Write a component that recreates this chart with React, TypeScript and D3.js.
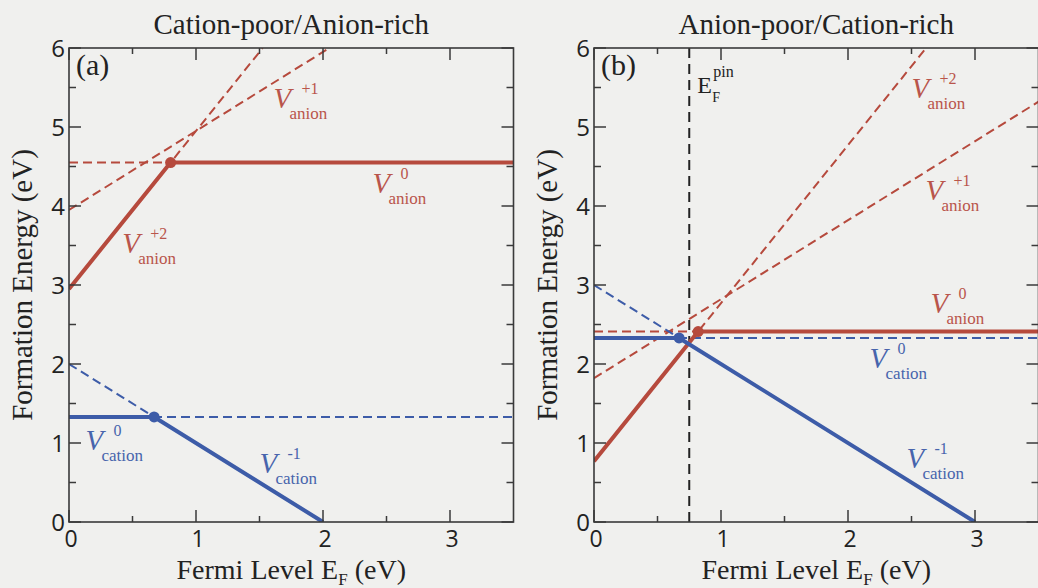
import React from 'react';
import * as d3 from 'd3';

type Pt = [number, number];

const xDomain: [number, number] = [0, 3.5];
const yDomain: [number, number] = [0, 6];
const xMajorTicks = [0, 1, 2, 3];
const xMinorTicks = [0.5, 1.5, 2.5];
const yMajorTicks = [0, 1, 2, 3, 4, 5, 6];
const yMinorTicks = [0.5, 1.5, 2.5, 3.5, 4.5, 5.5];

const titles = ['Cation-poor/Anion-rich', 'Anion-poor/Cation-rich'];
const tags = ['(a)', '(b)'];
const xLabel = 'Fermi Level E';
const yLabel = 'Formation Energy (eV)';

// Panel (a): cation-poor / anion-rich
const aAnionStable: Pt[] = [[0, 2.95], [0.8, 4.55], [3.5, 4.55]];
const aAnionPlus2: Pt[] = [[0, 2.95], [1.525, 6]];
const aAnionPlus1: Pt[] = [[0, 3.95], [2.05, 6]];
const aAnionNeutral: Pt[] = [[0, 4.55], [3.5, 4.55]];
const aCationStable: Pt[] = [[0, 1.33], [0.67, 1.33], [2.0, 0]];
const aCationMinus1: Pt[] = [[0, 2.0], [2.0, 0]];
const aCationNeutral: Pt[] = [[0, 1.33], [3.5, 1.33]];
const aAnionTransition: Pt = [0.8, 4.55];
const aCationTransition: Pt = [0.67, 1.33];

// Panel (b): anion-poor / cation-rich
const bAnionStable: Pt[] = [[0, 0.77], [0.82, 2.41], [3.5, 2.41]];
const bAnionPlus2: Pt[] = [[0, 0.77], [2.615, 6]];
const bAnionPlus1: Pt[] = [[0, 1.82], [3.5, 5.32]];
const bAnionNeutral: Pt[] = [[0, 2.41], [3.5, 2.41]];
const bCationStable: Pt[] = [[0, 2.33], [0.67, 2.33], [3.0, 0]];
const bCationMinus1: Pt[] = [[0, 3.0], [3.0, 0]];
const bCationNeutral: Pt[] = [[0, 2.33], [3.5, 2.33]];
const bAnionTransition: Pt = [0.82, 2.41];
const bCationTransition: Pt = [0.67, 2.33];
const bPinLevel = 0.75;

type Lbl = { x: number; y: number; sup: string; sub: string; kind: 'anion' | 'cation' };

const aLabels: Lbl[] = [
  { x: 1.61, y: 5.24, sup: '+1', sub: 'anion', kind: 'anion' },
  { x: 2.39, y: 4.16, sup: '0', sub: 'anion', kind: 'anion' },
  { x: 0.42, y: 3.41, sup: '+2', sub: 'anion', kind: 'anion' },
  { x: 0.13, y: 0.91, sup: '0', sub: 'cation', kind: 'cation' },
  { x: 1.5, y: 0.62, sup: '-1', sub: 'cation', kind: 'cation' },
];
const bLabels: Lbl[] = [
  { x: 2.5, y: 5.37, sup: '+2', sub: 'anion', kind: 'anion' },
  { x: 2.61, y: 4.08, sup: '+1', sub: 'anion', kind: 'anion' },
  { x: 2.65, y: 2.65, sup: '0', sub: 'anion', kind: 'anion' },
  { x: 2.17, y: 1.95, sup: '0', sub: 'cation', kind: 'cation' },
  { x: 2.46, y: 0.68, sup: '-1', sub: 'cation', kind: 'cation' },
];

const RED = '#b64a3d';
const BLUE = '#3d5ca8';
const RED_TXT = '#b9554b';
const BLUE_TXT = '#4764ac';
const AXIS = '#3a3a3a';
const SERIF = '"Liberation Serif", "Times New Roman", serif';
const SANS = '"Open Sans", "Noto Sans", sans-serif';

type PanelProps = {
  idx: number;
  left: number;
  anionStable: Pt[];
  anionDashed: Pt[][];
  cationStable: Pt[];
  cationDashed: Pt[][];
  anionDot: Pt;
  cationDot: Pt;
  labels: Lbl[];
  pin?: number;
};

function Panel(p: PanelProps) {
  const top = 48;
  const bottom = 522;
  const width = 444.5;
  const x = d3.scaleLinear().domain(xDomain).range([p.left, p.left + width]);
  const y = d3.scaleLinear().domain(yDomain).range([bottom, top]);
  const line = d3.line<Pt>().x((d) => x(d[0])).y((d) => y(d[1]));
  const clipId = `clip${p.idx}`;
  const cx = p.left + width / 2;

  return (
    <g>
      <defs>
        <clipPath id={clipId}>
          <rect x={p.left} y={top} width={width} height={bottom - top} />
        </clipPath>
      </defs>
      <text x={cx} y={34} textAnchor="middle" fontFamily={SERIF} fontSize={29} fill="#222">
        {titles[p.idx]}
      </text>
      <g clipPath={`url(#${clipId})`}>
        {p.anionDashed.map((d, i) => (
          <path key={'ad' + i} d={line(d) || ''} fill="none" stroke={RED} strokeWidth={2} strokeDasharray="9,5" />
        ))}
        {p.cationDashed.map((d, i) => (
          <path key={'cd' + i} d={line(d) || ''} fill="none" stroke={BLUE} strokeWidth={2} strokeDasharray="9,5" />
        ))}
        {p.pin !== undefined && (
          <line x1={x(p.pin)} x2={x(p.pin)} y1={y(0)} y2={y(6)} stroke="#222" strokeWidth={2} strokeDasharray="10,6" />
        )}
        <path d={line(p.anionStable) || ''} fill="none" stroke={RED} strokeWidth={4} strokeLinejoin="round" />
        <path d={line(p.cationStable) || ''} fill="none" stroke={BLUE} strokeWidth={4} strokeLinejoin="round" />
        <circle cx={x(p.anionDot[0])} cy={y(p.anionDot[1])} r={5.5} fill={RED} />
        <circle cx={x(p.cationDot[0])} cy={y(p.cationDot[1])} r={5.5} fill={BLUE} />
      </g>
      <rect x={p.left} y={top} width={width} height={bottom - top} fill="none" stroke={AXIS} strokeWidth={1.6} />
      {xMajorTicks.map((t) => (
        <g key={'xm' + t}>
          <line x1={x(t)} x2={x(t)} y1={bottom} y2={bottom - 12} stroke={AXIS} strokeWidth={1.5} />
          <line x1={x(t)} x2={x(t)} y1={top} y2={top + 12} stroke={AXIS} strokeWidth={1.5} />
          <text x={x(t) + 2} y={bottom + 25} textAnchor="middle" fontFamily={SANS} fontSize={23} fill="#222">
            {t}
          </text>
        </g>
      ))}
      {xMinorTicks.map((t) => (
        <g key={'xn' + t}>
          <line x1={x(t)} x2={x(t)} y1={bottom} y2={bottom - 6} stroke={AXIS} strokeWidth={1.5} />
          <line x1={x(t)} x2={x(t)} y1={top} y2={top + 6} stroke={AXIS} strokeWidth={1.5} />
        </g>
      ))}
      {yMajorTicks.map((t) => (
        <g key={'ym' + t}>
          <line x1={p.left} x2={p.left + 12} y1={y(t)} y2={y(t)} stroke={AXIS} strokeWidth={1.5} />
          <line x1={p.left + width} x2={p.left + width - 12} y1={y(t)} y2={y(t)} stroke={AXIS} strokeWidth={1.5} />
          <text x={p.left - 4} y={y(t) + 9} textAnchor="end" fontFamily={SANS} fontSize={24} fill="#222">
            {t}
          </text>
        </g>
      ))}
      {yMinorTicks.map((t) => (
        <g key={'yn' + t}>
          <line x1={p.left} x2={p.left + 7} y1={y(t)} y2={y(t)} stroke={AXIS} strokeWidth={1.5} />
          <line x1={p.left + width} x2={p.left + width - 7} y1={y(t)} y2={y(t)} stroke={AXIS} strokeWidth={1.5} />
        </g>
      ))}
      <text x={p.left + 7} y={75} fontFamily={SERIF} fontSize={30} fill="#222">
        {tags[p.idx]}
      </text>
      {p.pin !== undefined && (
        <g fontFamily={SERIF} fill="#222">
          <text x={x(p.pin) + 8} y={93} fontSize={24}>E</text>
          <text x={x(p.pin) + 24} y={77} fontSize={16}>pin</text>
          <text x={x(p.pin) + 23} y={102} fontSize={14}>F</text>
        </g>
      )}
      {p.labels.map((l, i) => {
        const px = x(l.x);
        const py = y(l.y);
        const c = l.kind === 'anion' ? RED_TXT : BLUE_TXT;
        return (
          <g key={'l' + i} fill={c} fontFamily={SERIF}>
            <text x={px} y={py} fontSize={29} fontStyle="italic">V</text>
            <text x={px + 28} y={py - 14} fontSize={16}>{l.sup}</text>
            <text x={px + 16} y={py + 11} fontSize={17}>{l.sub}</text>
          </g>
        );
      })}
      <text x={cx} y={579} textAnchor="middle" fontFamily={SERIF} fontSize={28} fill="#222">
        {xLabel}
        <tspan fontSize={17} dy={6}>F</tspan>
        <tspan dy={-6}> (eV)</tspan>
      </text>
      <text
        transform={`translate(${p.left - 37},${285}) rotate(-90)`}
        textAnchor="middle"
        fontFamily={SERIF}
        fontSize={29}
        fill="#222"
      >
        {yLabel}
      </text>
    </g>
  );
}

export default function App() {
  return (
    <svg
      width={1038}
      height={588}
      style={{ position: 'absolute', left: 0, top: 0, display: 'block' }}
    >
      <rect x={0} y={0} width={1038} height={588} fill="#f0f0ee" />
      <Panel
        idx={0}
        left={69}
        anionStable={aAnionStable}
        anionDashed={[aAnionPlus2, aAnionPlus1, aAnionNeutral]}
        cationStable={aCationStable}
        cationDashed={[aCationMinus1, aCationNeutral]}
        anionDot={aAnionTransition}
        cationDot={aCationTransition}
        labels={aLabels}
      />
      <Panel
        idx={1}
        left={594}
        anionStable={bAnionStable}
        anionDashed={[bAnionPlus2, bAnionPlus1, bAnionNeutral]}
        cationStable={bCationStable}
        cationDashed={[bCationMinus1, bCationNeutral]}
        anionDot={bAnionTransition}
        cationDot={bCationTransition}
        labels={bLabels}
        pin={bPinLevel}
      />
    </svg>
  );
}
